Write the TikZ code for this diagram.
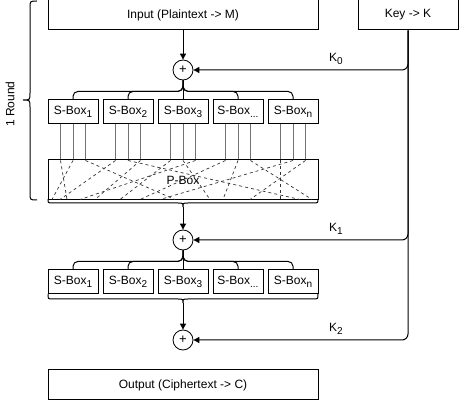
\documentclass[tikz,border=0pt]{standalone}
\usepackage{fontspec}
\setmainfont{Liberation Sans}
\usetikzlibrary{arrows.meta}
\newcommand{\mysub}[1]{\raisebox{-2.5pt}{\fontsize{10}{10}\selectfont #1}}
\begin{document}
\begin{tikzpicture}[x=1pt,y=-1pt,
  txt/.style={font=\fontsize{12}{14}\selectfont},
  bigbox/.style={draw, line width=1pt, minimum width=270pt, minimum height=30pt, inner sep=0pt, txt},
  sbox/.style={draw, line width=1pt, minimum width=50pt, minimum height=24pt, inner sep=0pt, txt},
  xor/.style={circle, draw, line width=0.8pt, minimum size=20pt, inner sep=0pt, font=\fontsize{13}{14}\selectfont},
  conn/.style={line width=1pt},
  arr/.style={conn, -{Triangle[length=6pt,width=6pt]}},
  wire/.style={draw=black!55, line width=1pt},
  perm/.style={line width=0.7pt, dash pattern=on 3pt off 3pt, draw=black!80},
  lbl/.style={txt, inner sep=0pt}]
\useasboundingbox (0,0) rectangle (459,401);

% top boxes
\node[bigbox] (in) at (183,15) {Input (Plaintext -> M)};
\node[bigbox, minimum width=100pt] (key) at (408,15) {Key -> K};

% round 1
\node[xor] (x1) at (183,70) {+};
\node[sbox] (a1) at (73,112) {S-Box\mysub{1}};
\node[sbox] (a2) at (128,112) {S-Box\mysub{2}};
\node[sbox] (a3) at (183,112) {S-Box\mysub{3}};
\node[sbox] (a4) at (238,112) {S-Box\mysub{...}};
\node[sbox] (a5) at (293,112) {S-Box\mysub{n}};
\node[bigbox, minimum height=40pt] (pbox) at (183,180) {P-Box};

% round 2
\node[xor] (x2) at (183,240) {+};
\node[sbox] (b1) at (73,282) {S-Box\mysub{1}};
\node[sbox] (b2) at (128,282) {S-Box\mysub{2}};
\node[sbox] (b3) at (183,282) {S-Box\mysub{3}};
\node[sbox] (b4) at (238,282) {S-Box\mysub{...}};
\node[sbox] (b5) at (293,282) {S-Box\mysub{n}};

\node[xor] (x3) at (183,340) {+};
\node[bigbox] (out) at (183,385) {Output (Ciphertext -> C)};

% key labels
\node[lbl] (k0) at (336,59) {K\mysub{0}};
\node[lbl] (k1) at (336,229) {K\mysub{1}};
\node[lbl] (k2) at (336,329) {K\mysub{2}};

% round label and brace
\node[lbl, rotate=90] (round) at (10,104) {1 Round};
\draw[conn] (37,1) .. controls (30,1) .. (30,8) -- (30,93) .. controls (30,100) .. (23,100)
  .. controls (30,100) .. (30,107) -- (30,193) .. controls (30,200) .. (37,200);

% input -> xor1
\draw[arr] (in.south) -- (x1.north);

% key connectors
\draw[arr, rounded corners=6pt] (key.south) |- (x1.east);
\draw[arr, rounded corners=6pt] (key.south) |- (x2.east);
\draw[arr, rounded corners=6pt] (key.south) |- (x3.east);

% splits to S-boxes
\draw[conn] (x1.south) -- (a3.north);
\foreach \n in {a1,a2,a4,a5}
  \draw[conn, rounded corners=5pt] (x1.south) -- ++(0,11) -| (\n.north);
\draw[conn] (x2.south) -- (b3.north);
\foreach \n in {b1,b2,b4,b5}
  \draw[conn, rounded corners=5pt] (x2.south) -- ++(0,11) -| (\n.north);

% wires S-box -> P-box
\foreach \n in {a1,a2,a3,a4,a5}
  \foreach \d in {-12.5,0,12.5}
    \draw[wire] ([xshift=\d pt]\n.south) -- ([xshift=\d pt]\n.south |- pbox.north);

% permutation
\foreach \a/\b in {60.5/67, 73/52, 85.5/175, 115.5/60, 128/300, 140.5/95, 170.5/120, 183/210,
                   195.5/80, 225.5/140, 238/223, 250.5/312, 280.5/280.5, 293/160, 305.5/250}
  \draw[perm] (\a,160.5) -- (\b,199.5);

% brace under P-box
\draw[conn] (48,199) .. controls (48,203) .. (53,203) -- (178,203) .. controls (183,203) .. (183,207)
  .. controls (183,203) .. (188,203) -- (313,203) .. controls (318,203) .. (318,199);
\coordinate (bt1) at (183,207);
\draw[arr] (bt1) -- (x2.north);

% brace under S-box row 2
\draw[conn] (48,294) .. controls (48,299) .. (53,299) -- (178,299) .. controls (183,299) .. (183,303)
  .. controls (183,299) .. (188,299) -- (313,299) .. controls (318,299) .. (318,294);
\coordinate (bt2) at (183,303);
\draw[arr] (bt2) -- (x3.north);
\end{tikzpicture}
\end{document}
